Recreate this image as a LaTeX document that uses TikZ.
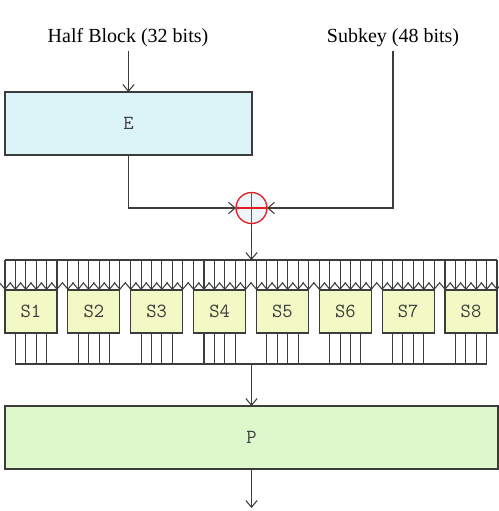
\documentclass[tikz,border=0pt]{standalone}
\usepackage{fontspec}
\setmainfont{Liberation Serif}
\usetikzlibrary{arrows.meta,calc}
\definecolor{ln}{HTML}{3C3C3C}
\definecolor{efill}{HTML}{DCF4F8}
\definecolor{sfill}{HTML}{F2F9C4}
\definecolor{pfill}{HTML}{DEF8CC}
\definecolor{xr}{HTML}{E41E26}
\definecolor{xfill}{HTML}{EEF6FA}
\begin{document}
\begin{tikzpicture}[x=0.75pt,y=-0.75pt,
  line width=0.8pt, draw=ln,
  >={Straight Barb[length=5pt,width=8.5pt]},
  box/.style={draw=ln, rectangle, inner sep=0pt, outer sep=0pt, text=ln,
    font=\fontsize{15}{17}\selectfont\ttfamily},
  lbl/.style={font=\fontsize{15}{18}\selectfont, text=black, inner sep=3pt},
  wire/.style={draw=ln},
  xorn/.style={circle, draw=xr, fill=xfill, line width=1pt, minimum size={31*0.75pt}, inner sep=0pt, outer sep=0pt}
]
\useasboundingbox (0,0) rectangle (499,511);
% labels
\node[lbl, anchor=base] (hb) at (128,42) {Half Block (32 bits)};
\node[lbl, anchor=base] (sk) at (393,42) {Subkey (48 bits)};
% E box
\node[box, fill=efill, minimum width={247*0.75pt}, minimum height={63*0.75pt}] (E) at (128.5,123.5) {E};
% XOR
\node[xorn] (x) at (251.5,208) {};
\draw[xr, line width=1pt] (x.north) -- (x.south) (x.west) -- (x.east);
\draw[wire,->] (hb.south -| E.north) -- (E.north);
\draw[wire,->] (E.south) |- (x.west);
\draw[wire,->] (sk.south) |- (x.east);
% buses
\coordinate (busL) at (5,260);
\coordinate (busR) at (497,260);
\coordinate (busB) at (251.5,364);
\draw[wire] (busL) -- (busR);
\draw[wire,->] (x.south) -- (x.south |- busL);
% S-boxes
\foreach \i in {1,...,8}{
  \node[box, fill=sfill, minimum width={52*0.75pt}, minimum height={43*0.75pt}]
    (S\i) at ({5+62.86*(\i-1)+26},311.5) {S\i};
  \foreach \k in {0,...,5}{
    \draw[wire,->] ($(S\i.north west)+(10.4*\k,-30)$) -- ($(S\i.north west)+(10.4*\k,0)$);
  }
  \foreach \k in {1,...,4}{
    \draw[wire] ($(S\i.south west)+(10.4*\k,0)$) -- ($(S\i.south west)+(10.4*\k,31)$);
  }
}
\draw[wire] ($(S1.south west)+(10.4,31)$) -- ($(S8.south west)+(41.6,31)$);
% P box
\node[box, fill=pfill, minimum width={493*0.75pt}, minimum height={63*0.75pt}] (P) at (251.5,437.5) {P};
\draw[wire,->] (busB) -- (P.north);
\coordinate (out) at (251.5,508);
\draw[wire,->] (P.south) -- (out);
\end{tikzpicture}
\end{document}
